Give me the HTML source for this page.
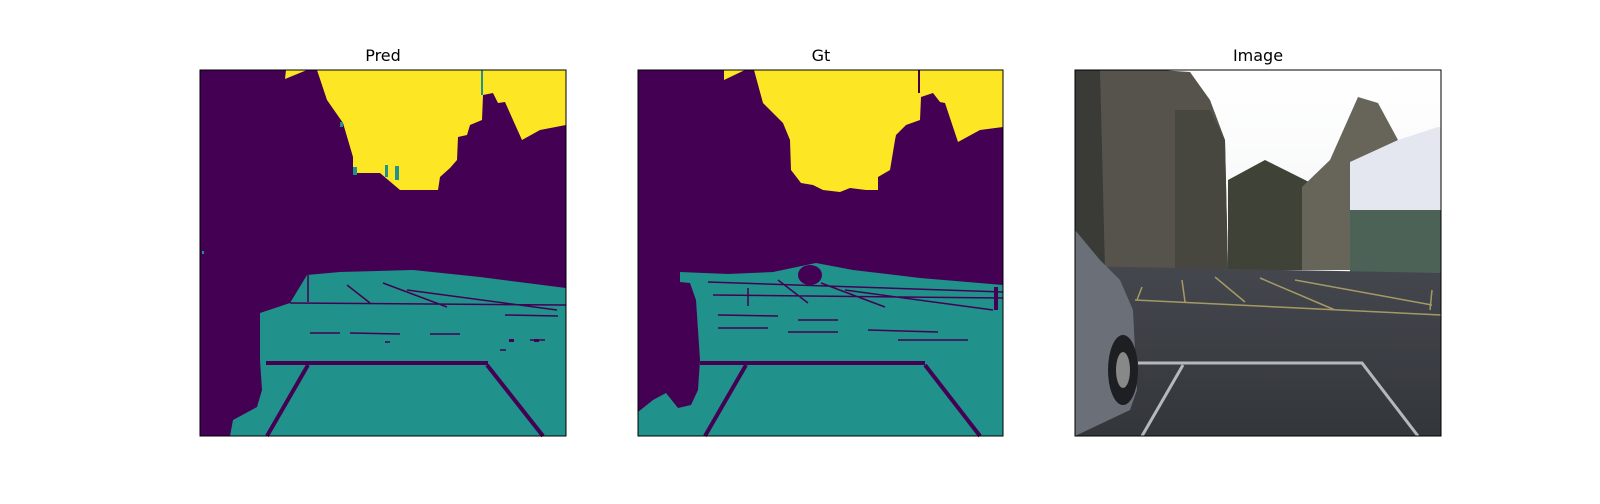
<!DOCTYPE html>
<html><head><meta charset="utf-8"><style>
body{margin:0;background:#fff;width:1600px;height:500px;overflow:hidden;font-family:"DejaVu Sans","Liberation Sans",sans-serif}
</style></head><body>
<svg width="1600" height="500" viewBox="0 0 1600 500">
<defs>
<linearGradient id="road" x1="0" y1="0" x2="0" y2="1"><stop offset="0" stop-color="#44474d"/><stop offset="1" stop-color="#33363b"/></linearGradient>
<linearGradient id="sky" x1="0" y1="0" x2="0" y2="1"><stop offset="0" stop-color="#ffffff"/><stop offset="1" stop-color="#eceef0"/></linearGradient>
</defs>
<!-- PRED -->
<g transform="translate(200,70)">
<text x="183" y="-9" font-size="16" text-anchor="middle">Pred</text>
<rect width="366" height="366" fill="#440154"/>
<polygon fill="#fde725" points="86,0 107,0 85,9"/>
<polygon fill="#fde725" points="117,0 366,0 366,55 340,60 322,70 313,50 305,32 298,33 293,23 283,25 282,50 270,55 267,65 258,67 257,90 250,98 240,107 238,120 200,120 180,103 153,103 153,87 143,53 127,30"/>
<rect x="281" y="0" width="2" height="25" fill="#21918c"/>
<g fill="#21918c"><rect x="153" y="97" width="4" height="8"/><rect x="185" y="95" width="3" height="12"/><rect x="195" y="96" width="4" height="14"/><rect x="140" y="52" width="3" height="5"/></g>
<polygon fill="#21918c" points="107,205 140,202 213,200 280,207 366,218 366,366 30,366 33,350 57,337 62,320 60,290 60,243 90,233"/>
<rect x="2" y="181" width="2" height="3" fill="#21918c"/>
<g stroke="#440154" fill="none">
<path d="M66,293 L288,293" stroke-width="4"/>
<path d="M108,295 L67,366" stroke-width="4"/>
<path d="M287,295 L343,366" stroke-width="4"/>
<path d="M147,215 L170,233 M183,213 L247,237 M207,220 L357,240 M90,233 L366,235 M108,205 L108,232 M305,245 L358,246" stroke-width="1.5"/>
<path d="M110,263 L140,263 M150,263 L200,264 M230,264 L260,264 M330,270 L345,270 M185,272 L190,272 M300,280 L306,280" stroke-width="1.5"/>
</g>
<rect x="309" y="269" width="5" height="3" fill="#440154"/><rect x="334" y="269" width="5" height="3" fill="#440154"/>
<rect width="366" height="366" fill="none" stroke="#000" stroke-width="1"/>
</g>
<!-- GT -->
<g transform="translate(638,70)">
<text x="183" y="-9" font-size="16" text-anchor="middle">Gt</text>
<rect width="365" height="366" fill="#440154"/>
<polygon fill="#fde725" points="86,0 107,0 86,10"/>
<polygon fill="#fde725" points="116,0 365,0 365,57 342,60 320,72 307,33 302,32 295,23 283,27 282,50 268,55 258,65 257,70 252,100 240,107 240,120 228,120 212,118 202,122 185,120 175,115 163,113 153,100 152,70 145,53 125,33"/>
<rect x="280" y="0" width="2" height="23" fill="#440154"/>
<polygon fill="#21918c" points="42,202 90,204 135,202 178,193 215,200 282,208 365,215 365,366 0,366 0,342 15,330 28,323 40,338 53,335 60,320 62,290 58,230 52,213 42,212"/>
<ellipse cx="172" cy="205" rx="12" ry="10" fill="#440154"/>
<g stroke="#440154" fill="none">
<path d="M62,293 L287,293" stroke-width="4"/>
<path d="M108,295 L67,366" stroke-width="4"/>
<path d="M287,295 L342,366" stroke-width="4"/>
<path d="M358,217 L358,240" stroke-width="4"/>
<path d="M140,210 L170,233 M183,213 L247,237 M207,220 L355,240 M75,225 L365,228 M110,218 L110,236 M70,212 L365,222" stroke-width="1.5"/>
<path d="M80,245 L140,246 M160,250 L200,250 M80,258 L130,258 M150,262 L200,262 M230,260 L300,262 M260,270 L330,270" stroke-width="1.5"/>
</g>
<rect width="365" height="366" fill="none" stroke="#000" stroke-width="1"/>
</g>
<!-- IMAGE -->
<g transform="translate(1075,70)">
<text x="183" y="-9" font-size="16" text-anchor="middle">Image</text>
<rect width="366" height="366" fill="url(#sky)"/>
<polygon fill="#55534b" points="0,0 85,0 115,2 135,30 150,70 153,200 0,200"/>
<polygon fill="#3a3a36" points="0,0 25,0 30,200 0,200"/>
<polygon fill="#47473f" points="100,40 135,40 150,70 153,200 100,200"/>
<polygon fill="#3f4236" points="153,110 190,90 220,105 240,115 240,200 153,200"/>
<polygon fill="#67655a" points="227,117 255,90 283,27 303,33 323,70 300,90 275,100 275,200 227,200"/>
<polygon fill="#e4e7f0" points="275,92 323,70 363,57 366,57 366,200 275,200"/>
<rect x="275" y="140" width="91" height="63" fill="#4c6256"/>
<polygon fill="url(#road)" points="0,196 366,203 366,366 0,366"/>
<g stroke="#a59a66" fill="none" stroke-width="1.5">
<path d="M67,217 L62,230 M107,210 L110,232 M140,207 L170,232 M60,230 L366,245 M185,208 L260,240 M220,210 L357,235 M357,220 L355,240"/>
</g>
<g stroke="#b5b8bc" fill="none" stroke-width="3">
<path d="M63,293 L287,293 L343,366 M108,295 L67,366"/>
</g>
<polygon fill="#6b7078" points="0,160 25,190 45,210 58,240 62,320 55,340 0,366"/>
<ellipse cx="48" cy="300" rx="15" ry="35" fill="#1e1f22"/>
<ellipse cx="48" cy="300" rx="7" ry="18" fill="#888"/>
<rect width="366" height="366" fill="none" stroke="#000" stroke-width="1"/>
</g>
</svg>
</body></html>
